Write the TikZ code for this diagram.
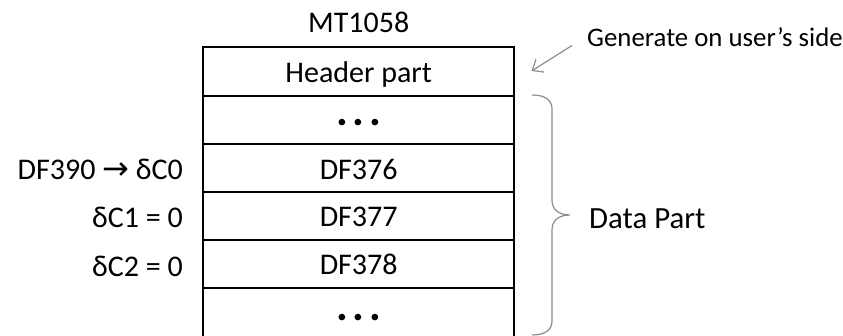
\documentclass[tikz,border=0pt]{standalone}
\usepackage{fontspec}
\setmainfont{Carlito}
\newfontfamily\symfont{DejaVu Sans}
\usetikzlibrary{arrows.meta}
\begin{document}
\begin{tikzpicture}[x=1pt,y=-1pt,
  rowbox/.style={draw=black,line width=2pt,minimum width=310.7pt,inner sep=0pt,
    font=\fontsize{30}{35}\selectfont,text height=22pt,text depth=0pt},
  dotrow/.style={rowbox,text height=10pt},
  lbl/.style={anchor=base east,inner sep=0pt,font=\fontsize{30}{35}\selectfont},
  txt/.style={inner sep=0pt,font=\fontsize{30}{35}\selectfont},
  grayline/.style={draw=black!45,line width=1.2pt}]
\useasboundingbox (0,0) rectangle (843,336);
\newcommand{\mydots}{\textbf{\fontsize{44}{48}\selectfont .\hspace{5pt}.\hspace{5pt}.}}
% rows
\node[rowbox,minimum height=49pt] (hdr) at (358.7,72) {Header part};
\node[dotrow,minimum height=48pt] (d1) at (358.7,120.5) {\mydots};
\node[rowbox,minimum height=47.5pt] (r376) at (358.7,168.25) {DF376};
\node[rowbox,minimum height=48pt] (r377) at (358.7,216) {DF377};
\node[rowbox,minimum height=48pt] (r378) at (358.7,264) {DF378};
\node[dotrow,minimum height=56pt] (d2) at (358.7,316) {\mydots};
% title
\node[txt,anchor=base] (title) at (358.7,33) {MT1058};
% left labels
\node[lbl] (l0) at (183,180) {DF390 {\symfont\fontsize{32}{35}\selectfont →} δC0};
\node[lbl] (l1) at (183,228) {δC1 = 0};
\node[lbl] (l2) at (183,277) {δC2 = 0};
% generate note
\node[txt,anchor=base west,font=\fontsize{26.8}{30}\selectfont] (gen) at (587,46.5) {Generate on user’s side};
\coordinate (gstart) at (572,45.5);
\coordinate (gend) at (531.5,71);
\draw[grayline,-{Straight Barb[length=9pt,width=15pt]}] (gstart) -- (gend);
% brace
\draw[grayline] (532,95) .. controls (545,95) and (552,100) .. (552,109)
  -- (552,200) .. controls (552,209) and (558,215) .. (570,215)
  .. controls (558,215) and (552,221) .. (552,230)
  -- (552,321) .. controls (552,330) and (545,335) .. (532,335);
\node[txt,anchor=base west,font=\fontsize{30.8}{35}\selectfont] (data) at (589,228.3) {Data Part};
\end{tikzpicture}
\end{document}
